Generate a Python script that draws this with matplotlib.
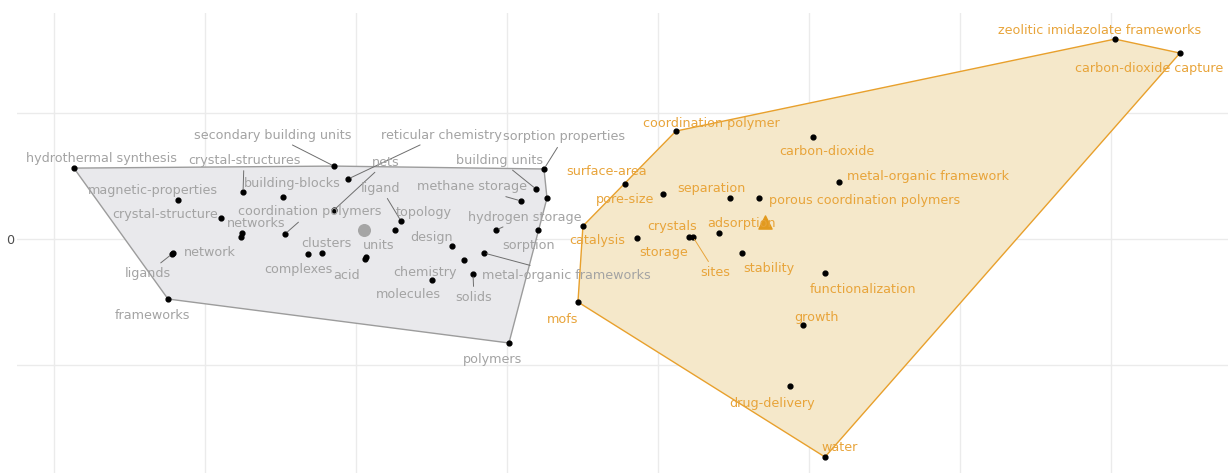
import numpy as np
import matplotlib
matplotlib.use("Agg")
import matplotlib.pyplot as plt

# ──────────────────────────────────────────────
# data: keyword map, two clusters (dim 1 / dim 2)
# ──────────────────────────────────────────────
grey_words = ['hydrothermal synthesis', 'frameworks', 'polymers', 'secondary building units',
              'reticular chemistry', 'sorption properties', 'building units', '',
              'methane storage', 'magnetic-properties', 'crystal-structures', 'building-blocks',
              'crystal-structure', 'networks', '', 'nets', 'coordination polymers', 'network',
              'ligands', 'clusters', 'complexes', 'units', 'acid', 'ligand', 'topology',
              'design', 'chemistry', 'molecules', 'solids', 'metal-organic frameworks',
              'hydrogen storage', 'sorption']
grey_x = [-1.868, -1.245, 1.013, -0.146, -0.053, 1.245, 1.192, 1.265, 1.093, -1.179,
          -0.748, -0.483, -0.894, -0.755, -0.762, -0.146, -0.470, -1.212, -1.219, -0.225,
          -0.318, 0.066, 0.060, 0.298, 0.258, 0.636, 0.715, 0.503, 0.775, 0.848, 0.927, 1.205]
grey_y = [0.563, -0.476, -0.825, 0.579, 0.476, 0.556, 0.397, 0.325, 0.302, 0.310,
          0.373, 0.333, 0.167, 0.048, 0.016, 0.230, 0.040, -0.111, -0.119, -0.111,
          -0.119, -0.143, -0.159, 0.143, 0.071, -0.056, -0.167, -0.325, -0.278, -0.111,
          0.071, 0.071]
grey_centre = (0.053, 0.071)

orange_words = ['zeolitic imidazolate frameworks', 'carbon-dioxide capture', 'coordination polymer',
                'carbon-dioxide', 'metal-organic framework', 'surface-area', 'pore-size',
                'separation', 'porous coordination polymers', 'catalysis', 'storage', 'crystals',
                'sites', 'adsorption', 'stability', 'functionalization', 'growth', 'mofs',
                'drug-delivery', 'water']
orange_x = [5.026, 5.457, 2.119, 3.026, 3.199, 1.781, 2.033, 2.477, 2.669, 1.503,
            1.861, 2.205, 2.232, 2.404, 2.556, 3.106, 2.960, 1.470, 2.874, 3.106]
orange_y = [1.587, 1.476, 0.857, 0.810, 0.452, 0.437, 0.357, 0.325, 0.325, 0.103,
            0.008, 0.016, 0.016, 0.048, -0.111, -0.270, -0.683, -0.500, -1.167, -1.730]
orange_centre = (2.709, 0.135)

# label offsets in pixels (dx right, dy down), as placed by the repel step
grey_offsets = [(28, -10), (-16, 16), (-16, 17), (-61, -31), (93, -44), (20, -32), (-36, -29),
                None, (-49, -14), (-25, -9), (1, -32), (9, -14), (-56, -3), (14, -9), None,
                (52, -48), (25, -22), (37, -1), (-24, 19), (4, -10), (-10, 15), (13, -12),
                (-18, 16), (-20, -33), (29, -18), (-20, -9), (-39, 12), (-24, 15), (1, 23),
                (82, 22), (29, -13), (-9, 15)]
orange_offsets = [(-15, -9), (-31, 15), (35, -8), (14, 15), (89, -6), (-18, -12), (-38, 5),
                  (-19, -10), (106, 2), (14, 14), (27, 14), (-17, -11), (22, 35), (23, -9),
                  (27, 15), (38, 16), (14, -8), (-15, 17), (-18, 17), (15, -9)]

LEADERS = {'secondary building units', 'reticular chemistry', 'sorption properties',
           'building units', 'methane storage', 'crystal-structures', 'coordination polymers',
           'nets', 'ligands', 'ligand', 'solids', 'metal-organic frameworks',
           'hydrogen storage', 'sites'}

GREY_TXT, GREY_EDGE, GREY_FILL = '#A3A3A3', '#9C9C9C', '#E9E9EC'
ORG_TXT, ORG_EDGE, ORG_FILL = '#E8A43A', '#E8A02C', '#F5E8CA'


def hull(xs, ys):
    pts = sorted(set(zip(xs, ys)))

    def cross(o, a, b):
        return (a[0] - o[0]) * (b[1] - o[1]) - (a[1] - o[1]) * (b[0] - o[0])

    lower, upper = [], []
    for p in pts:
        while len(lower) >= 2 and cross(lower[-2], lower[-1], p) <= 0:
            lower.pop()
        lower.append(p)
    for p in reversed(pts):
        while len(upper) >= 2 and cross(upper[-2], upper[-1], p) <= 0:
            upper.pop()
        upper.append(p)
    return np.array(lower[:-1] + upper[:-1])


fig = plt.figure(figsize=(12.28, 4.73), dpi=100, facecolor='white')
ax = fig.add_axes([17 / 1228, 0, 1 - 17 / 1228, 460 / 473])
ax.set_xlim(-2.245, 5.775)
ax.set_ylim(-1.857, 1.794)

for xs, ys, fill, edge in [(grey_x, grey_y, GREY_FILL, GREY_EDGE),
                           (orange_x, orange_y, ORG_FILL, ORG_EDGE)]:
    h = hull(xs, ys)
    ax.fill(h[:, 0], h[:, 1], facecolor=fill, edgecolor=edge, linewidth=1.0, zorder=1)

ax.scatter(grey_x, grey_y, s=12, color='black', zorder=3)
ax.scatter(orange_x, orange_y, s=12, color='black', zorder=3)
ax.scatter([grey_centre[0]], [grey_centre[1]], s=70, marker='o', color='#A5A5A5', zorder=3)
ax.scatter([orange_centre[0]], [orange_centre[1]], s=90, marker='^', color='#E29A1E', zorder=3)

for words, xs, ys, offs, col in [(grey_words, grey_x, grey_y, grey_offsets, GREY_TXT),
                                 (orange_words, orange_x, orange_y, orange_offsets, ORG_TXT)]:
    for w, x, y, off in zip(words, xs, ys, offs):
        if not w:
            continue
        kw = {}
        if w in LEADERS:
            kw['arrowprops'] = dict(arrowstyle='-', color=col if col == ORG_TXT else '#6E6E6E',
                                    lw=0.7, shrinkA=1, shrinkB=2)
        ax.annotate(w, (x, y), xytext=(off[0], -off[1]), textcoords='offset pixels',
                    ha='center', va='center', fontsize=9.2, color=col, zorder=4, **kw)

ax.set_xticks(np.arange(-2, 6))
ax.set_xticklabels([])
ax.set_yticks([0])
ax.set_yticklabels(['0'])
ax.set_yticks([-1, 1], minor=True)
ax.tick_params(which='both', length=0, labelsize=9.2, colors='#4D4D4D', pad=2)
ax.grid(which='both', color='#EBEBEB', linewidth=1.0, zorder=0)
ax.set_axisbelow(True)
for s in ax.spines.values():
    s.set_visible(False)

fig.savefig('out.png', dpi=100, facecolor='white')
